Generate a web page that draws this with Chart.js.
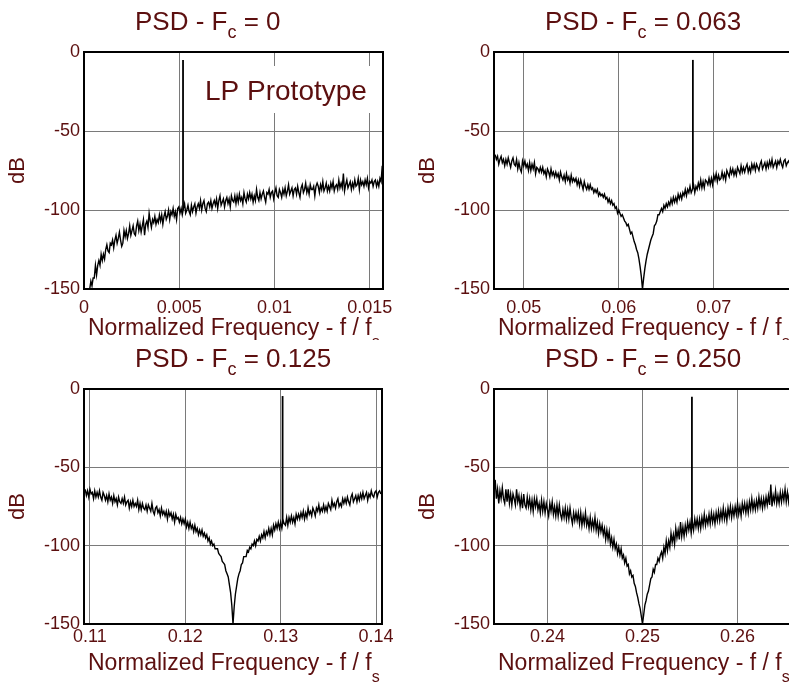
<!DOCTYPE html>
<html>
<head>
<meta charset="utf-8">
<script src="https://cdn.jsdelivr.net/npm/chart.js@4.4.0/dist/chart.umd.min.js"></script>
<style>
	html, body { margin: 0; padding: 0; background: #fff; overflow: hidden; }
	body { width: 789px; height: 683px; position: relative; }
	canvas { position: absolute; }
</style>
</head>
<body>
<canvas id="psd0"></canvas>
<canvas id="psd1"></canvas>
<canvas id="psd2"></canvas>
<canvas id="psd3"></canvas>
<script>
// Shared axis data
const yTicks = [0, -50, -100, -150];
const centerLabels = ['0', '0.063', '0.125', '0.250'];

// Frequency bins of each trace (start, bin width)
const binStart = [0.0003, 0.047, 0.1095, 0.2345];
const binStep = [0.00006, 0.000125, 0.000125, 0.000125];

// Tone line in each panel
const toneFreqs = [0.0052, 0.0678, 0.1302, 0.2552];
const tonePeaks = [-5, -5, -4.5, -5];
const toneFloors = [-100, -86, -86, -88];

// X ranges and ticks
const xMins = [0, 0.046875, 0.109375, 0.234375];
const xMaxs = [0.0157, 0.078125, 0.140625, 0.265625];
const xTicks0 = [0, 0.005, 0.01, 0.015];
const xTicks1 = [0.05, 0.06, 0.07];
const xTicks2 = [0.11, 0.12, 0.13, 0.14];
const xTicks3 = [0.24, 0.25, 0.26];

// PSD traces (dB)
const psd0 = [
	-150, -145, -148, -143, -143, -135, -141, -135, -132, -135,
	-128, -132, -128, -131, -125, -122, -126, -127, -121, -122,
	-119, -124, -119, -116, -121, -118, -114, -119, -123, -121,
	-113, -117, -113, -118, -115, -110, -116, -113, -110, -115,
	-116, -110, -107, -113, -109, -114, -110, -106, -116, -109,
	-107, -111, -102, -107, -111, -106, -108, -104, -109, -106,
	-108, -103, -107, -103, -109, -104, -101, -106, -104, -100,
	-106, -101, -103, -99, -104, -101, -106, -99, -98, -102,
	-99, -103, -99, -96, -102, -100, -97, -101, -103, -97,
	-101, -98, -96, -102, -98, -96, -99, -94, -100, -96,
	-94, -99, -101, -96, -95, -98, -94, -99, -96, -94,
	-97, -93, -99, -94, -91, -97, -95, -93, -98, -94,
	-92, -96, -93, -98, -91, -94, -95, -91, -96, -91,
	-95, -90, -94, -92, -96, -89, -93, -95, -90, -93,
	-89, -93, -90, -95, -91, -94, -87, -92, -94, -89,
	-93, -90, -88, -92, -95, -89, -90, -87, -92, -89,
	-88, -93, -89, -86, -91, -92, -87, -89, -92, -87,
	-90, -86, -91, -88, -84, -90, -88, -86, -91, -87,
	-86, -90, -85, -89, -92, -86, -84, -89, -87, -83,
	-89, -86, -90, -84, -87, -87, -85, -91, -85, -83,
	-85, -89, -84, -87, -82, -88, -86, -83, -88, -85,
	-88, -83, -86, -82, -88, -85, -84, -87, -81, -86,
	-83, -86, -77, -88, -84, -81, -86, -84, -82, -87,
	-83, -86, -81, -85, -84, -80, -87, -81, -84, -82,
	-85, -81, -84, -80, -86, -82, -83, -81, -85, -82,
	-81, -85, -82, -85, -80, -82, -72, -83,
];
const psd1 = [
	-65, -68, -66, -71, -68, -66, -70, -68, -72, -68,
	-71, -67, -70, -73, -69, -67, -71, -72, -68, -74,
	-70, -74, -76, -69, -72, -69, -73, -71, -75, -70,
	-75, -71, -74, -70, -77, -73, -74, -76, -73, -76,
	-73, -77, -75, -79, -74, -76, -79, -74, -78, -76,
	-79, -76, -79, -77, -81, -76, -79, -81, -78, -82,
	-77, -81, -79, -83, -78, -82, -80, -82, -80, -84,
	-81, -85, -81, -84, -87, -82, -85, -87, -84, -87,
	-84, -87, -86, -89, -87, -89, -87, -91, -89, -91,
	-90, -92, -90, -93, -92, -95, -93, -96, -94, -97,
	-96, -99, -98, -102, -100, -102, -104, -103, -105, -107,
	-108, -110, -109, -112, -115, -114, -117, -120, -122, -125,
	-127, -131, -136, -142, -150, -143, -137, -132, -128, -125,
	-122, -119, -117, -115, -110, -109, -107, -103, -103, -101,
	-99, -101, -97, -99, -96, -98, -95, -97, -93, -96,
	-92, -95, -92, -95, -90, -93, -90, -93, -89, -91,
	-87, -91, -87, -89, -85, -89, -87, -84, -89, -85,
	-87, -83, -86, -81, -86, -82, -86, -81, -82, -84,
	-80, -84, -80, -84, -78, -81, -77, -82, -78, -81,
	-80, -76, -80, -77, -81, -75, -77, -79, -74, -77,
	-74, -78, -75, -78, -73, -75, -77, -72, -76, -73,
	-76, -73, -71, -76, -73, -76, -71, -74, -71, -75,
	-71, -73, -75, -71, -69, -74, -72, -70, -74, -70,
	-73, -69, -72, -68, -73, -71, -69, -73, -69, -71,
	-68, -71, -73, -69, -68, -72, -70, -69, -71,
];
const psd2 = [
	-64, -68, -65, -69, -64, -67, -66, -70, -65, -69,
	-66, -69, -65, -69, -71, -66, -68, -71, -68, -72,
	-67, -71, -69, -73, -68, -72, -70, -74, -69, -72,
	-73, -70, -73, -69, -74, -72, -71, -76, -72, -75,
	-71, -75, -73, -75, -71, -77, -73, -77, -73, -76,
	-77, -74, -78, -74, -76, -78, -73, -78, -80, -76,
	-75, -79, -77, -81, -76, -80, -78, -81, -78, -83,
	-78, -81, -79, -83, -80, -85, -80, -83, -82, -85,
	-82, -86, -83, -86, -83, -88, -85, -89, -85, -89,
	-87, -91, -87, -91, -89, -93, -90, -93, -90, -94,
	-92, -95, -93, -97, -95, -99, -97, -100, -99, -102,
	-102, -102, -105, -106, -107, -110, -111, -112, -116, -118,
	-120, -125, -130, -138, -150, -139, -131, -126, -121, -118,
	-116, -112, -111, -107, -107, -107, -103, -104, -101, -102,
	-99, -100, -97, -100, -96, -97, -94, -97, -93, -95,
	-91, -95, -91, -93, -89, -93, -89, -93, -87, -90,
	-86, -89, -85, -89, -85, -89, -84, -86, -87, -82,
	-87, -82, -85, -81, -85, -82, -86, -80, -83, -80,
	-83, -79, -82, -78, -83, -79, -82, -76, -80, -78,
	-81, -76, -78, -81, -76, -78, -74, -79, -76, -78,
	-74, -78, -75, -78, -73, -75, -77, -71, -75, -73,
	-76, -72, -70, -75, -73, -75, -70, -73, -70, -73,
	-69, -72, -74, -69, -67, -72, -70, -68, -72, -68,
	-71, -67, -70, -66, -70, -68, -66, -71, -67, -69,
	-65, -68, -69, -66, -65, -69, -66, -65, -67,
];
const psd3 = [
	-58, -70, -64, -73, -65, -70, -63, -70, -73, -64,
	-72, -64, -73, -67, -74, -67, -70, -74, -64, -72,
	-68, -75, -69, -76, -67, -74, -76, -69, -75, -70,
	-77, -71, -78, -70, -75, -70, -77, -73, -79, -71,
	-78, -72, -79, -73, -77, -81, -73, -78, -72, -80,
	-75, -81, -74, -81, -74, -80, -83, -77, -82, -76,
	-83, -77, -83, -76, -82, -86, -79, -84, -79, -84,
	-79, -86, -79, -87, -81, -86, -79, -87, -83, -89,
	-82, -89, -84, -89, -82, -90, -85, -92, -86, -91,
	-87, -93, -89, -96, -90, -96, -91, -99, -95, -101,
	-96, -102, -99, -105, -101, -106, -102, -108, -106, -111,
	-108, -113, -112, -118, -116, -120, -119, -124, -126, -130,
	-133, -137, -140, -145, -150, -144, -138, -135, -131, -129,
	-125, -121, -120, -115, -117, -112, -112, -108, -110, -106,
	-104, -108, -101, -105, -97, -103, -97, -101, -92, -98,
	-93, -99, -89, -95, -90, -96, -85, -94, -88, -94,
	-87, -92, -85, -90, -85, -92, -85, -90, -83, -88,
	-83, -89, -83, -89, -82, -87, -80, -87, -82, -86,
	-80, -86, -79, -85, -80, -86, -79, -84, -78, -84,
	-78, -83, -76, -83, -78, -84, -76, -81, -75, -82,
	-76, -81, -75, -80, -73, -80, -75, -81, -73, -78,
	-73, -79, -73, -79, -72, -77, -70, -77, -72, -77,
	-71, -76, -69, -75, -70, -76, -70, -75, -69, -74,
	-68, -74, -61, -75, -68, -72, -65, -73, -68, -73,
	-66, -72, -66, -71, -64, -72, -66, -72, -65,
];

// Layout of the four panels (page pixels)
const panels = [
	{ id: 'psd0', left: 0, top: 0, w: 395, h: 340, plot: [84, 52, 383, 289], tickPad: 8 },
	{ id: 'psd1', left: 395, top: 0, w: 400, h: 340, plot: [494, 52, 791, 289], tickPad: 8 },
	{ id: 'psd2', left: 0, top: 340, w: 395, h: 343, plot: [84, 389, 382, 624], tickPad: 2 },
	{ id: 'psd3', left: 395, top: 340, w: 400, h: 343, plot: [494, 389, 791, 624], tickPad: 2 },
];
const traces = [psd0, psd1, psd2, psd3];
const xTickSets = [xTicks0, xTicks1, xTicks2, xTicks3];

const textColor = '#5c0f0f';
const fontFamily = '"Liberation Sans", Arial, Helvetica, sans-serif';

// draws text where parts alternate normal / subscript
function drawSub(ctx, parts, x, y, size, subSize, drop) {
	parts.forEach((p, i) => {
		let sub = i % 2 === 1;
		ctx.font = (sub ? subSize : size) + 'px ' + fontFamily;
		ctx.fillText(p, x, sub ? y + drop : y);
		x += ctx.measureText(p).width;
	});
}

const panelText = {
	id: 'panelText',
	beforeDatasetsDraw(chart, args, opts) {
		const ctx = chart.ctx;
		const a = chart.chartArea;
		if (opts.prototype) {
			ctx.save();
			ctx.fillStyle = '#fff';
			ctx.fillRect(a.left + 116, a.top + 14, 180, 47);
			ctx.fillStyle = textColor;
			ctx.font = '28px ' + fontFamily;
			ctx.fillText('LP Prototype', a.left + 121, a.top + 48);
			ctx.restore();
		}
	},
	afterDatasetsDraw(chart, args, opts) {
		const ctx = chart.ctx;
		const a = chart.chartArea;
		ctx.save();
		ctx.strokeStyle = '#000';
		ctx.lineWidth = 2;
		ctx.strokeRect(a.left, a.top, a.right - a.left, a.bottom - a.top);
		ctx.fillStyle = textColor;
		ctx.textBaseline = 'alphabetic';
		ctx.textAlign = 'left';
		drawSub(ctx, ['PSD - F', 'c', ' = ' + opts.center], a.left + 51, a.top - 22, 26, 18, 8);
		drawSub(ctx, ['Normalized Frequency - f / f', 's'], a.left + 4, a.bottom + 46, 23, 16, 12);
		ctx.translate(a.left - 60, (a.top + a.bottom) / 2);
		ctx.rotate(-Math.PI / 2);
		ctx.textAlign = 'center';
		ctx.font = '22px ' + fontFamily;
		ctx.fillText('dB', 0, 0);
		ctx.restore();
	},
};

panels.forEach((p, k) => {
	const canvas = document.getElementById(p.id);
	canvas.width = p.w;
	canvas.height = p.h;
	canvas.style.left = p.left + 'px';
	canvas.style.top = p.top + 'px';

	const trace = traces[k].map((v, i) => ({ x: binStart[k] + i * binStep[k], y: v }));
	const tone = [
		{ x: toneFreqs[k], y: toneFloors[k] },
		{ x: toneFreqs[k], y: tonePeaks[k] },
	];
	const [pl, pt, pr, pb] = p.plot;
	const ticks = xTickSets[k];

	new Chart(canvas, {
		type: 'line',
		data: {
			datasets: [
				{ data: trace, borderColor: '#000', borderWidth: 1.4, pointRadius: 0, tension: 0 },
				{ data: tone, borderColor: '#000', borderWidth: 1.8, pointRadius: 0 },
			],
		},
		options: {
			responsive: false,
			animation: false,
			events: [],
			layout: {
				padding: { left: 0, top: pt - p.top, right: p.w - (pr - p.left), bottom: 0 },
			},
			plugins: {
				legend: { display: false },
				tooltip: { enabled: false },
				panelText: { center: centerLabels[k], prototype: k === 0 },
			},
			scales: {
				x: {
					type: 'linear',
					min: xMins[k],
					max: xMaxs[k],
					afterBuildTicks: (s) => { s.ticks = ticks.map((v) => ({ value: v })); },
					afterFit: (s) => {
						s.height = p.h - (pb - p.top);
						s.paddingLeft = 0;
						s.paddingRight = 0;
					},
					grid: { color: '#7a7a7a', lineWidth: 1, drawTicks: false },
					border: { display: false },
					ticks: {
						color: textColor,
						font: { family: fontFamily, size: 18 },
						padding: p.tickPad,
						autoSkip: false,
						maxRotation: 0,
						callback: (v) => String(v),
					},
				},
				y: {
					min: -150,
					max: 0,
					afterBuildTicks: (s) => { s.ticks = yTicks.map((v) => ({ value: v })); },
					afterFit: (s) => { s.width = pl - p.left; },
					grid: { color: '#7a7a7a', lineWidth: 1, drawTicks: false },
					border: { display: false },
					ticks: {
						color: textColor,
						font: { family: fontFamily, size: 18 },
						padding: 4,
						callback: (v) => String(v),
					},
				},
			},
		},
		plugins: [panelText],
	});
});
</script>
</body>
</html>
